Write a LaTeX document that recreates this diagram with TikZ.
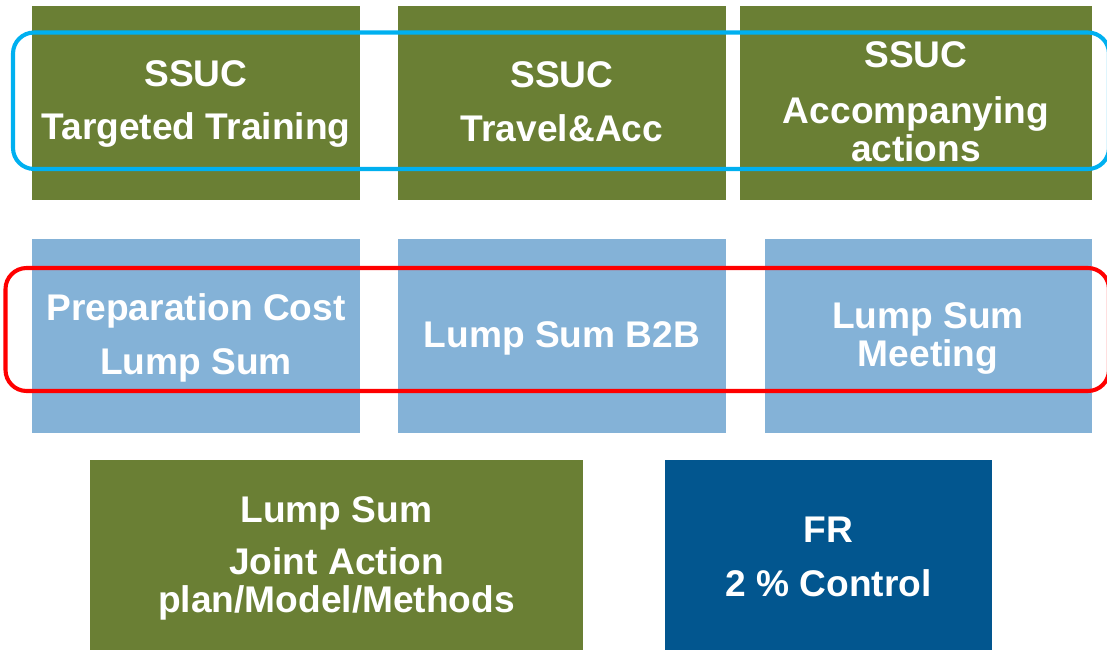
\documentclass[tikz,border=0pt]{standalone}
\usepackage{fontspec}
\setmainfont{Liberation Sans}
\usetikzlibrary{fit}
\definecolor{boxgreen}{HTML}{6A7F34}
\definecolor{boxlight}{HTML}{84B2D7}
\definecolor{boxdark}{HTML}{02568F}
\definecolor{ringcyan}{HTML}{00B0F0}
\definecolor{ringred}{HTML}{FF0000}
\begin{document}
\begin{tikzpicture}[x=0.025cm,y=-0.025cm,line join=round,
	box/.style={fill=#1,draw=none,inner sep=0pt},
	lbl/.style={text=white,font=\fontsize{26.4}{27}\selectfont\bfseries,align=center,anchor=base,inner sep=0pt},
	ring/.style={draw=#1,line width=2.9pt,rounded corners=15pt}]
	\useasboundingbox (0,0) rectangle (1107,650);
	% first row
	\node[box=boxgreen,fit={(32,6) (360,200)}] (training) {};
	\node[box=boxgreen,fit={(398,6) (726,200)}] (travel) {};
	\node[box=boxgreen,fit={(740,6) (1092,200)}] (accomp) {};
	\node[lbl] (trainingtxt) at (196,140) {SSUC\\[10.7pt]Targeted Training};
	\node[lbl] (traveltxt) at (562,142) {SSUC\\[12pt]Travel\&Acc};
	\node[lbl] (accomptxt) at (916,162) {SSUC\\[12.8pt]Accompanying\\[0.7pt]actions};
	% second row
	\node[box=boxlight,fit={(32,239) (360,433)}] (prep) {};
	\node[box=boxlight,fit={(398,239) (726,433)}] (btob) {};
	\node[box=boxlight,fit={(765,239) (1092,433)}] (meeting) {};
	\node[lbl] (preptxt) at (196,374) {Preparation Cost\\[11.4pt]Lump Sum};
	\node[lbl] (btobtxt) at (562,347) {Lump Sum B2B};
	\node[lbl] (meetingtxt) at (928,366) {Lump Sum\\Meeting};
	% third row
	\node[box=boxgreen,fit={(90,460) (583,650)}] (joint) {};
	\node[box=boxdark,fit={(665,460) (992,650)}] (control) {};
	\node[lbl] (jointtxt) at (336.5,612) {Lump Sum\\[9.3pt]Joint Action\\plan/Model/Methods};
	\node[lbl] (controltxt) at (828.5,596) {FR\\[11.4pt]2 \% Control};
	% groups
	\draw[ring=ringcyan] (13,32.5) rectangle (1109,169);
	\draw[ring=ringred] (5.5,268) rectangle (1109,391);
\end{tikzpicture}
\end{document}
